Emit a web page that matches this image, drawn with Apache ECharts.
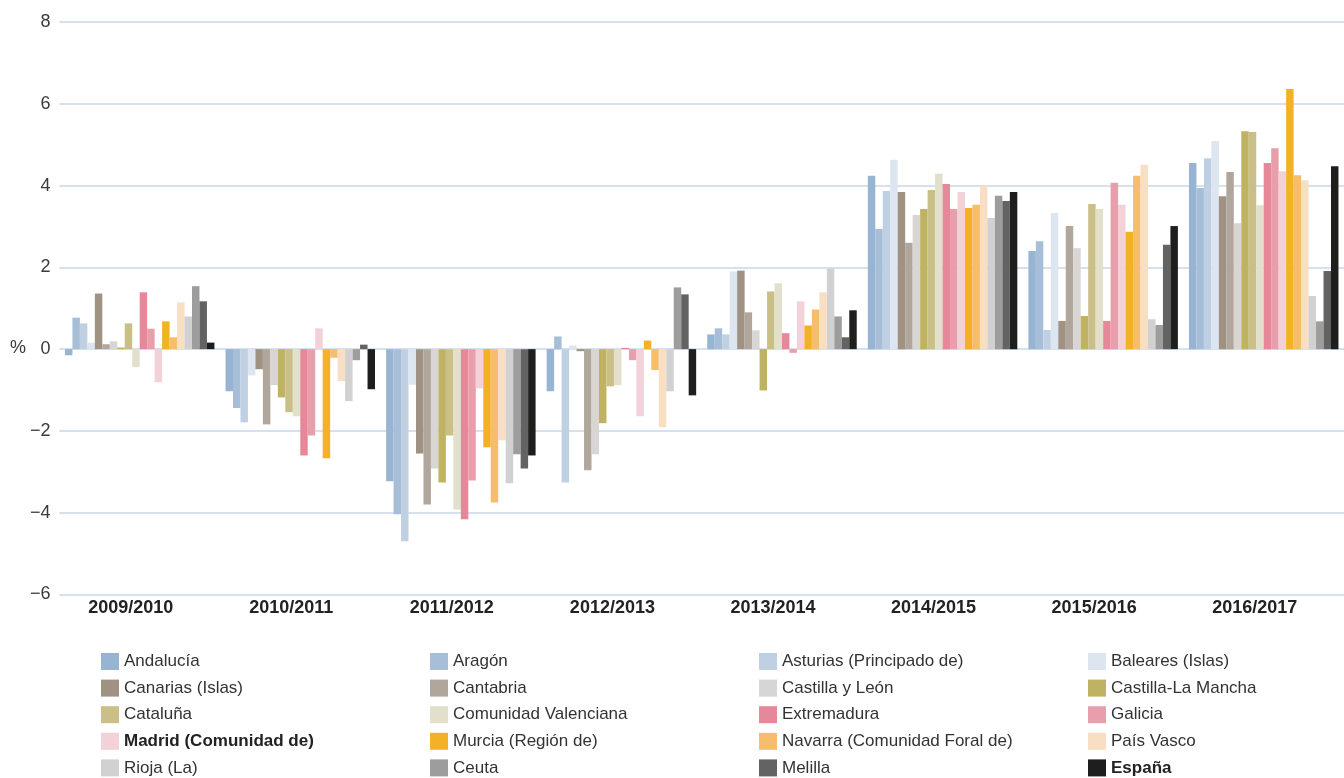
<!DOCTYPE html>
<html>
<head>
<meta charset="utf-8">
<script src="https://cdn.jsdelivr.net/npm/echarts@6/dist/echarts.min.js"></script>
<style>
html,body{margin:0;padding:0;background:#fff;}
#chart{width:1344px;height:778px;}
</style>
</head>
<body>
<div id="chart"></div>
<script>
const categories = ['2009/2010','2010/2011','2011/2012','2012/2013','2013/2014','2014/2015','2015/2016','2016/2017'];
const yTicks = [-6,-4,-2,0,2,4,6,8];

const andalucia   = [-0.15, -1.03, -3.23, -1.03,  0.36, 4.24, 2.40, 4.55];
const aragon      = [ 0.77, -1.44, -4.04,  0.31,  0.51, 2.94, 2.64, 3.94];
const asturias    = [ 0.63, -1.79, -4.70, -3.26,  0.36, 3.87, 0.47, 4.67];
const baleares    = [ 0.16, -0.64, -0.87,  0.09,  1.90, 4.63, 3.33, 5.09];
const canarias    = [ 1.36, -0.49, -2.55, -0.05,  1.92, 3.84, 0.69, 3.74];
const cantabria   = [ 0.12, -1.84, -3.80, -2.96,  0.90, 2.60, 3.01, 4.33];
const castillaLeon= [ 0.19, -0.88, -2.92, -2.57,  0.46, 3.28, 2.47, 3.08];
const castillaLM  = [ 0.04, -1.18, -3.26, -1.81, -1.01, 3.43, 0.81, 5.33];
const cataluna    = [ 0.63, -1.54, -2.11, -0.91,  1.41, 3.89, 3.55, 5.31];
const valenciana  = [-0.44, -1.64, -3.92, -0.88,  1.61, 4.29, 3.43, 3.52];
const extremadura = [ 1.39, -2.60, -4.16,  0.03,  0.39, 4.04, 0.69, 4.55];
const galicia     = [ 0.50, -2.11, -3.21, -0.27, -0.09, 3.43, 4.07, 4.91];
const madrid      = [-0.81,  0.51, -0.96, -1.64,  1.17, 3.84, 3.53, 4.35];
const murcia      = [ 0.68, -2.67, -2.40,  0.21,  0.58, 3.45, 2.87, 6.36];
const navarra     = [ 0.29, -0.21, -3.75, -0.51,  0.97, 3.53, 4.24, 4.25];
const paisVasco   = [ 1.14, -0.78, -2.23, -1.91,  1.39, 3.99, 4.51, 4.13];
const rioja       = [ 0.80, -1.27, -3.28, -1.03,  1.97, 3.21, 0.73, 1.30];
const ceuta       = [ 1.54, -0.27, -2.57,  1.51,  0.80, 3.75, 0.59, 0.68];
const melilla     = [ 1.17,  0.11, -2.92,  1.34,  0.29, 3.62, 2.55, 1.91];
const espana      = [ 0.16, -0.98, -2.60, -1.13,  0.95, 3.84, 3.01, 4.47];

const seriesNames = ['Andalucía','Aragón','Asturias (Principado de)','Baleares (Islas)','Canarias (Islas)','Cantabria','Castilla y León','Castilla-La Mancha','Cataluña','Comunidad Valenciana','Extremadura','Galicia','Madrid (Comunidad de)','Murcia (Región de)','Navarra (Comunidad Foral de)','País Vasco','Rioja (La)','Ceuta','Melilla','España'];
const seriesValues = [andalucia, aragon, asturias, baleares, canarias, cantabria, castillaLeon, castillaLM, cataluna, valenciana, extremadura, galicia, madrid, murcia, navarra, paisVasco, rioja, ceuta, melilla, espana];
const seriesColors = ['#97b5d3','#a6bed8','#bfd0e2','#dde5f0','#9f9282','#b0a69b','#d9d5d2','#bfb363','#c9bf87','#e2dfca','#e68899','#e99fab','#f2d1d8','#f3b126','#f5bd6c','#f8dec2','#d1d1d1','#9d9d9c','#636363','#1e1e1c'];
const boldNames = ['Madrid (Comunidad de)','España'];

const FONT = '"Liberation Sans", Arial, sans-serif';

const series = seriesNames.map((n, i) => ({
  name: n,
  type: 'bar',
  data: seriesValues[i],
  itemStyle: { color: seriesColors[i] },
  barGap: '0%',
  barCategoryGap: '6.9%',
  animation: false
}));

const colLefts = [96, 425, 754, 1083];
const legends = colLefts.map((left, c) => ({
  orient: 'vertical',
  left: left,
  top: 648,
  height: 140,
  itemWidth: 18,
  itemHeight: 17,
  itemGap: 9.6,
  selectedMode: false,
  icon: 'rect',
  data: [0,1,2,3,4].map(r => seriesNames[r * 4 + c]),
  formatter: name => boldNames.includes(name) ? '{b|' + name + '}' : '{n|' + name + '}',
  textStyle: {
    color: '#333',
    fontFamily: FONT,
    fontSize: 17,
    lineHeight: 17,
    rich: {
      n: { fontFamily: FONT, fontSize: 17, lineHeight: 17, color: '#333' },
      b: { fontFamily: FONT, fontSize: 17, lineHeight: 17, fontWeight: 'bold', color: '#222' }
    }
  }
}));

const chart = echarts.init(document.getElementById('chart'), null, { renderer: 'canvas' });
chart.setOption({
  animation: false,
  backgroundColor: '#ffffff',
  grid: { left: 59.4, top: 22, width: 1295, height: 572.5, containLabel: false },
  legend: legends,
  xAxis: {
    type: 'category',
    data: categories,
    position: 'bottom',
    axisLine: { show: false },
    axisTick: { show: false },
    axisLabel: {
      fontFamily: FONT,
      fontSize: 18,
      fontWeight: 'bold',
      color: '#222',
      margin: 5,
      padding: [0, 18, 0, 0]
    },
    splitLine: { show: false }
  },
  yAxis: {
    type: 'value',
    min: yTicks[0],
    max: yTicks[yTicks.length - 1],
    interval: 2,
    axisLine: { show: false },
    axisTick: { show: false },
    axisLabel: {
      fontFamily: FONT,
      fontSize: 18,
      color: '#3a3a3a',
      margin: 9,
      formatter: v => String(v).replace('-', '\u2212')
    },
    splitLine: { show: true, lineStyle: { color: '#c9d7e7', width: 1.6 } }
  },
  graphic: [{
    type: 'text',
    left: 10,
    top: 339,
    style: { text: '%', fontFamily: FONT, fontSize: 18, fill: '#3a3a3a' }
  }],
  series: series
});
</script>
</body>
</html>
